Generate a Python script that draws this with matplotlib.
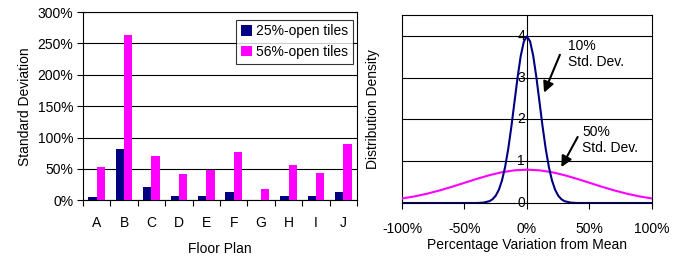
import matplotlib.pyplot as plt
import numpy as np

plt.rcParams['font.family'] = ['Liberation Sans', 'DejaVu Sans']
plt.rcParams['font.size'] = 10

# left chart: standard deviation per floor plan
plans = ['A', 'B', 'C', 'D', 'E', 'F', 'G', 'H', 'I', 'J']
open25 = [6, 82, 21, 7, 7, 13, 0.5, 7, 7, 13]
open56 = [53, 263, 71, 42, 49, 77, 18, 56, 44, 90]

# right chart: distribution density curves
x_narrow = [-1.0, -0.4, -0.35, -0.3, -0.275, -0.25, -0.225, -0.2, -0.175, -0.15, -0.125,
            -0.1, -0.075, -0.05, -0.025, 0.0, 0.025, 0.05, 0.075, 0.1, 0.125, 0.15,
            0.175, 0.2, 0.225, 0.25, 0.275, 0.3, 0.35, 0.4, 1.0]
y_narrow = [0.0, 0.0005, 0.009, 0.044, 0.091, 0.175, 0.317, 0.54, 0.863, 1.295, 1.826,
            2.42, 3.011, 3.521, 3.867, 3.989, 3.867, 3.521, 3.011, 2.42, 1.826, 1.295,
            0.863, 0.54, 0.317, 0.175, 0.091, 0.044, 0.009, 0.0005, 0.0]
x_wide = [-1.0, -0.9, -0.8, -0.7, -0.6, -0.5, -0.4, -0.3, -0.2, -0.1, 0.0,
          0.1, 0.2, 0.3, 0.4, 0.5, 0.6, 0.7, 0.8, 0.9, 1.0]
y_wide = [0.108, 0.158, 0.222, 0.3, 0.388, 0.484, 0.579, 0.666, 0.737, 0.782, 0.798,
          0.782, 0.737, 0.666, 0.579, 0.484, 0.388, 0.3, 0.222, 0.158, 0.108]

navy = '#000080'
magenta = '#FF00FF'

fig = plt.figure(figsize=(6.84, 2.57), dpi=100)
ax1 = fig.add_axes([0.1213, 0.2206, 0.4007, 0.7324])
ax2 = fig.add_axes([0.5877, 0.2101, 0.3655, 0.7315])

# --- bars
pos = np.arange(len(plans))
w = 0.3
ax1.bar(pos - w / 2, open25, w, color=navy, label='25%-open tiles', zorder=3)
ax1.bar(pos + w / 2, open56, w, color=magenta, label='56%-open tiles', zorder=3)
ax1.set_xlim(-0.5, len(plans) - 0.5)
ax1.set_ylim(0, 300)
ax1.set_yticks(range(0, 301, 50))
ax1.set_yticklabels([f'{v}%' for v in range(0, 301, 50)])
ax1.yaxis.grid(True, color='black', lw=0.8, zorder=0)
ax1.set_xticks(pos)
ax1.set_xticklabels(plans)
ax1.set_xticks(np.arange(-0.5, len(plans)), minor=True)
ax1.tick_params(axis='x', which='major', length=0, pad=11)
ax1.tick_params(axis='x', which='minor', length=4, direction='out', width=0.8)
ax1.tick_params(axis='y', length=4, width=0.8, pad=3)
ax1.set_xlabel('Floor Plan', labelpad=9)
ax1.set_ylabel('Standard Deviation', labelpad=4)
for s in ax1.spines.values():
    s.set_linewidth(0.8)
    s.set_color('black')
leg = ax1.legend(loc='upper right', bbox_to_anchor=(0.985, 0.96), frameon=True,
                 fancybox=False, edgecolor='black', handlelength=0.8, handleheight=0.8,
                 handletextpad=0.3, borderpad=0.35, labelspacing=0.45, borderaxespad=0)
leg.get_frame().set_linewidth(0.8)

# --- density curves
ax2.plot(x_wide, y_wide, color=magenta, lw=1.5, zorder=3)
ax2.plot(x_narrow, y_narrow, color=navy, lw=1.5, zorder=4)
ax2.set_xlim(-1, 1)
ax2.set_ylim(0, 4.5)
ax2.axvline(0, color='black', lw=0.8, zorder=2)
for yv in [1, 2, 3, 4]:
    ax2.axhline(yv, color='black', lw=0.8, zorder=1)
    ax2.text(-0.015, yv, str(yv), ha='right', va='center', fontsize=10, zorder=2)
ax2.text(-0.015, 0, '0', ha='right', va='center', fontsize=10, zorder=5)
ax2.set_yticks([])
ax2.set_xticks([-1, -0.5, 0, 0.5, 1])
ax2.set_xticklabels(['-100%', '-50%', '0%', '50%', '100%'])
ax2.tick_params(axis='x', length=4, width=0.8, pad=10)
ax2.set_xlabel('Percentage Variation from Mean', labelpad=1)
ax2.set_ylabel('Distribution Density', labelpad=16)
for s in ax2.spines.values():
    s.set_linewidth(0.8)
    s.set_color('black')

arrow = dict(arrowstyle='-|>', color='black', lw=1.5, mutation_scale=16)
ax2.annotate('', xy=(0.128, 2.58), xytext=(0.272, 3.61), arrowprops=arrow, zorder=6)
ax2.text(0.33, 3.92, '10%\nStd. Dev.', ha='left', va='top', fontsize=10, linespacing=1.15)
ax2.annotate('', xy=(0.264, 0.80), xytext=(0.416, 1.64), arrowprops=arrow, zorder=6)
ax2.text(0.44, 1.86, '50%\nStd. Dev.', ha='left', va='top', fontsize=10, linespacing=1.15)

fig.savefig('out.png', dpi=100)
